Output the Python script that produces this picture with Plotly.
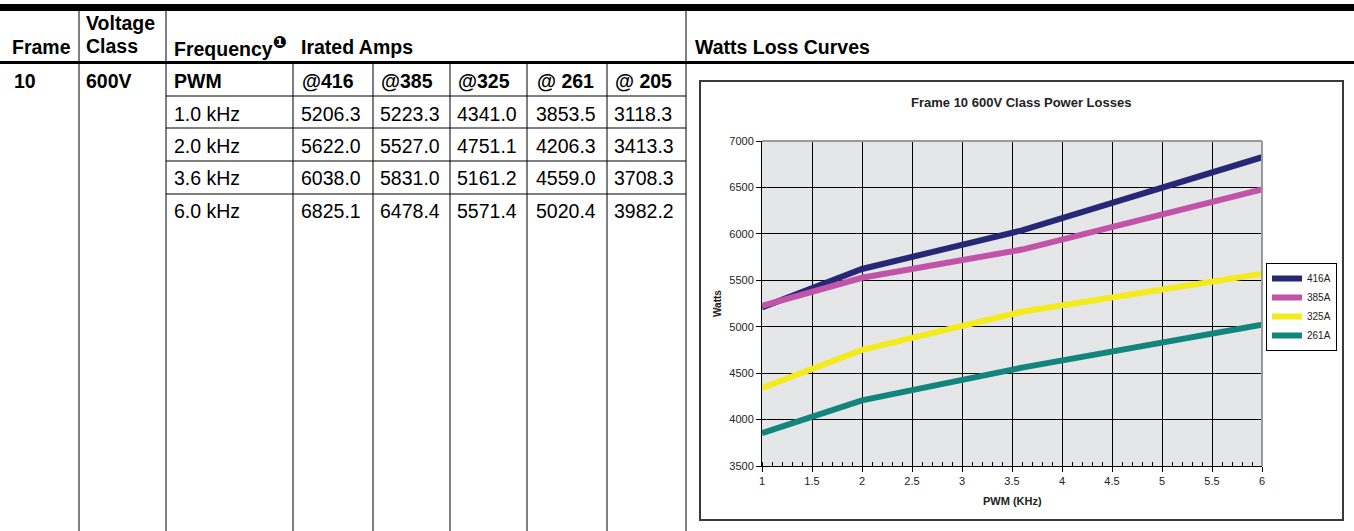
"""Frame 10 600V class power loss table with its watts loss chart."""

import plotly.graph_objects as go

# ----- Data -----
FREQ_LABELS = ["1.0 kHz", "2.0 kHz", "3.6 kHz", "6.0 kHz"]
PWM_KHZ = [1.0, 2.0, 3.6, 6.0]
AMP_HEADERS = ["@416", "@385", "@325", "@ 261", "@ 205"]
AMPS_416 = [5206.3, 5622.0, 6038.0, 6825.1]
AMPS_385 = [5223.3, 5527.0, 5831.0, 6478.4]
AMPS_325 = [4341.0, 4751.1, 5161.2, 5571.4]
AMPS_261 = [3853.5, 4206.3, 4559.0, 5020.4]
AMPS_205 = [3118.3, 3413.3, 3708.3, 3982.2]
SERIES_NAMES = ["416A", "385A", "325A", "261A"]

W, H = 1354, 531
TABLE_FONT = "Liberation Sans, Arial, DejaVu Sans, sans-serif"
CHART_FONT = "Liberation Sans, Arial, sans-serif"
COLORS = ["#272875", "#c153a8", "#f3eb1d", "#13857f"]


def px(x):
    return x / W


def py(y):
    return 1 - y / H


def _text(x, y, text, bold=False, size=19.5):
    return dict(
        x=px(x), y=py(y), xref="paper", yref="paper",
        xanchor="left", yanchor="middle", showarrow=False,
        text=f"<b>{text}</b>" if bold else text,
        font=dict(family=TABLE_FONT, size=size, color="black"),
    )


def _line(x0, y0, x1, y1, width=1, color="black"):
    return dict(
        type="line", xref="paper", yref="paper",
        x0=px(x0), y0=py(y0), x1=px(x1), y1=py(y1),
        line=dict(color=color, width=width), layer="above",
    )


def _bar(x0, y0, x1, y1):
    # thick rule drawn as a filled strip
    return dict(
        type="rect", xref="paper", yref="paper",
        x0=px(x0), y0=py(y1), x1=px(x1), y1=py(y0),
        fillcolor="black", line=dict(width=0), layer="above",
    )


# ----- Chart traces -----
fig = go.Figure()
for name, ys, color in zip(SERIES_NAMES, [AMPS_416, AMPS_385, AMPS_325, AMPS_261], COLORS):
    fig.add_trace(go.Scatter(
        x=PWM_KHZ, y=ys, mode="lines", name=name,
        line=dict(color=color, width=6),
        hoverinfo="skip",
    ))

# ----- Table text -----
annotations = [
    _text(10, 47, "Frame", bold=True),
    _text(84, 23, "Voltage", bold=True),
    _text(84, 46, "Class", bold=True),
    _text(172, 46, "Frequency<sup><span style='font-size:17px'>❶</span></sup>", bold=True),
    _text(299, 47, "Irated Amps", bold=True),
    _text(693, 47, "Watts Loss Curves", bold=True),
    _text(12, 81, "10", bold=True),
    _text(84, 81, "600V", bold=True),
    _text(172, 81, "PWM", bold=True),
]
col_x = [299, 378, 455, 534, 612]
for cx, head in zip(col_x, AMP_HEADERS):
    annotations.append(_text(cx + 1, 81, head, bold=True))

row_y = [114, 146, 178, 211]
columns = [AMPS_416, AMPS_385, AMPS_325, AMPS_261, AMPS_205]
for i, (ry, label) in enumerate(zip(row_y, FREQ_LABELS)):
    annotations.append(_text(172, ry, label))
    for cx, col in zip(col_x, columns):
        annotations.append(_text(cx, ry, f"{col[i]:.1f}"))

# ----- Chart text -----
annotations += [
    dict(x=px(1021), y=py(102), xref="paper", yref="paper", showarrow=False,
         xanchor="center", yanchor="middle",
         text="<b>Frame 10 600V Class Power Losses</b>",
         font=dict(family=CHART_FONT, size=13, color="#222")),
    dict(x=px(1012), y=py(501), xref="paper", yref="paper", showarrow=False,
         xanchor="center", yanchor="middle",
         text="<b>PWM (KHz)</b>",
         font=dict(family=CHART_FONT, size=11, color="#222")),
    dict(x=px(717), y=py(303), xref="paper", yref="paper", showarrow=False,
         xanchor="center", yanchor="middle",
         text="<b>Watts</b>", textangle=-90,
         font=dict(family=CHART_FONT, size=10, color="#222")),
]

# ----- Table lines -----
shapes = [
    _bar(0, 4, W, 11),
    _bar(0, 61, W, 64),
]
for x in [79, 166, 686]:
    shapes.append(_line(x, 6, x, 63))
for x in [79, 166, 293, 373, 450, 527, 607, 686]:
    shapes.append(_line(x, 63, x, H))
for y in [96, 128, 161, 194]:
    shapes.append(_line(166, y, 686, y))

# chart frame and plot edges
shapes.append(dict(
    type="rect", xref="paper", yref="paper",
    x0=px(700), y0=py(520), x1=px(1343), y1=py(81),
    line=dict(color="#3a3a3a", width=2), layer="below",
))
shapes.append(dict(type="line", xref="x domain", yref="y domain",
                   x0=0, x1=1, y0=1, y1=1,
                   line=dict(color="#9a9a9a", width=2), layer="above"))
shapes.append(dict(type="line", xref="x domain", yref="y domain",
                   x0=1, x1=1, y0=0, y1=1,
                   line=dict(color="#9a9a9a", width=2), layer="above"))

fig.update_layout(
    width=W, height=H,
    margin=dict(l=0, r=0, t=0, b=0, autoexpand=False),
    paper_bgcolor="white",
    plot_bgcolor="#e5e6e8",
    annotations=annotations,
    shapes=shapes,
    showlegend=True,
    legend=dict(
        x=px(1266), y=py(263), xanchor="left", yanchor="top",
        bgcolor="white", bordercolor="black", borderwidth=1,
        font=dict(family=CHART_FONT, size=10, color="#222"),
        itemwidth=30, tracegroupgap=0,
    ),
    hovermode=False,
)
fig.update_xaxes(
    domain=[px(762), px(1262)],
    range=[1, 6], tick0=1, dtick=0.5,
    showgrid=True, gridcolor="black", gridwidth=1,
    zeroline=False, automargin=False,
    showline=True, linecolor="black", linewidth=1,
    ticks="outside", ticklen=5, tickcolor="black",
    minor=dict(ticks="inside", dtick=0.1, ticklen=4, tickcolor="black", showgrid=False),
    tickfont=dict(family=CHART_FONT, size=11, color="#222"),
)
fig.update_yaxes(
    domain=[py(466), py(141)],
    range=[3500, 7000], dtick=500,
    showgrid=True, gridcolor="black", gridwidth=1,
    zeroline=False, automargin=False,
    showline=True, linecolor="black", linewidth=1,
    ticks="outside", ticklen=5, tickcolor="black",
    tickfont=dict(family=CHART_FONT, size=11, color="#222"),
)

fig.write_html(
    "out.html",
    config={"displayModeBar": False},
    post_script="document.body.style.margin='0';document.body.style.overflow='hidden';",
)
